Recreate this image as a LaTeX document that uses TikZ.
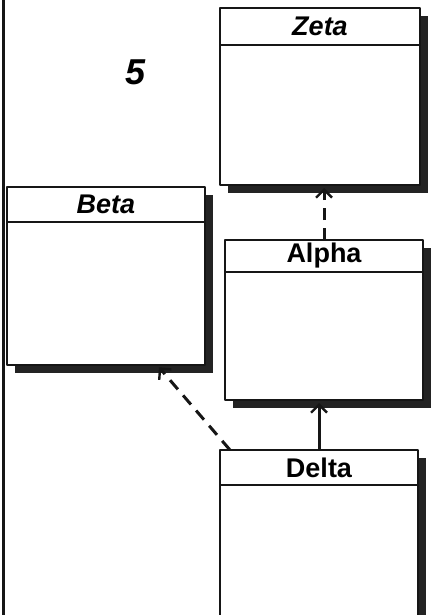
\documentclass[tikz,border=0pt]{standalone}
\usepackage{fontspec}
\setmainfont{Liberation Sans}
\setsansfont{Liberation Sans}
\usepackage{tikz}
\usetikzlibrary{arrows.meta,positioning,shadows,calc}
\definecolor{umledge}{RGB}{22,22,22}
\definecolor{umlshade}{RGB}{35,35,35}
\tikzset{
  umlbox/.style={
    draw=umledge, line width=2pt, fill=white, inner sep=0pt, outer sep=0pt,
    minimum width=198pt,
    drop shadow={shadow xshift=8pt, shadow yshift=-8pt, fill=umlshade, opacity=1}
  },
  head/.style={umlbox, font=\fontsize{27}{29}\selectfont\bfseries},
  ihead/.style={umlbox, font=\fontsize{27}{29}\selectfont\bfseries\itshape},
  body/.style={umlbox},
  arr/.style={-{Straight Barb[length=8pt,width=16pt,line width=2.4pt]},
    draw=umledge, line width=3pt, shorten >=3pt},
  darr/.style={arr, dash pattern=on 12pt off 8pt},
  every picture/.append style={line join=round}
}
\begin{document}
\begin{tikzpicture}[x=1pt,y=-1pt]
  \useasboundingbox (0,0) rectangle (436,615);
  \draw[umledge, line width=3pt] (3,0) -- (3,615);
  \node[font=\fontsize{36}{38}\selectfont\bfseries\itshape] (num) at (136,72) {5};
  % classes
  \node[ihead, minimum width=200pt, minimum height=37pt] (zeta) at (320,26.5) {Zeta};
  \node[body, minimum width=200pt, minimum height=140pt, below=0pt of zeta] (zetab) {};
  \node[ihead, minimum height=35pt] (beta) at (106,204.5) {Beta};
  \node[body, minimum height=143pt, below=0pt of beta] (betab) {};
  \node[head, minimum height=32pt] (alpha) at (324,256) {Alpha};
  \node[body, minimum height=128pt, below=0pt of alpha] (alphab) {};
  \node[head, minimum height=35pt] (delta) at (319,467.5) {Delta};
  \node[body, minimum height=140pt, below=0pt of delta] (deltab) {};
  % relations
  \draw[darr] (alpha.north) -- (alpha.north |- zetab.south);
  \draw[arr] (delta.north) -- (delta.north |- alphab.south);
  \draw[darr] ([xshift=10pt]delta.north west) -- ([xshift=-48pt]betab.south east);
\end{tikzpicture}
\end{document}
